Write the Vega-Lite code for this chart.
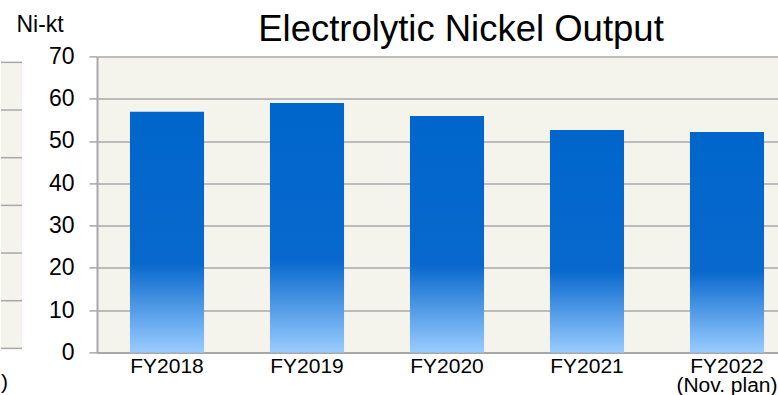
{
  "$schema": "https://vega.github.io/schema/vega-lite/v6.json",
  "padding": {"left": 0, "top": 11.4, "right": 0, "bottom": 0},
  "background": "white",
  "config": {"view": {"stroke": null}, "font": "Liberation Sans"},
  "bounds": "flush",
  "spacing": 75,
  "hconcat": [
    {
      "width": 21,
      "height": 296,
      "layer": [
        {
          "data": {"values": [{"x0": 0, "x1": 1, "y0": 0, "y1": 6}]},
          "mark": {"type": "rect", "color": "#f4f3ec"},
          "encoding": {
            "x": {"field": "x0", "type": "quantitative", "scale": {"domain": [0, 1], "nice": false}, "axis": null},
            "x2": {"field": "x1"},
            "y": {"field": "y0", "type": "quantitative", "scale": {"domain": [-0.084, 6.125], "nice": false, "zero": false}, "axis": null},
            "y2": {"field": "y1"}
          }
        },
        {
          "data": {"values": [{"v": 0}, {"v": 1}, {"v": 2}, {"v": 3}, {"v": 4}, {"v": 5}, {"v": 6}]},
          "mark": {"type": "rule", "color": "#a8a8a8", "strokeWidth": 1.5},
          "encoding": {
            "y": {"field": "v", "type": "quantitative", "scale": {"domain": [-0.084, 6.125], "nice": false, "zero": false}, "axis": null}
          }
        },
        {
          "data": {"values": [{"t": ")", "x": 0, "y": -0.85}]},
          "mark": {"type": "text", "align": "left", "baseline": "alphabetic", "fontSize": 21, "color": "black"},
          "encoding": {
            "text": {"field": "t"},
            "x": {"field": "x", "type": "quantitative", "scale": {"domain": [0, 1], "nice": false}, "axis": null},
            "y": {"field": "y", "type": "quantitative", "scale": {"domain": [-0.084, 6.125], "nice": false, "zero": false}, "axis": null}
          }
        }
      ]
    },
    {
      "width": 700,
      "height": 296,
      "view": {"fill": "#f4f3ec", "stroke": null},
      "title": {
        "text": "Electrolytic Nickel Output",
        "fontSize": 36.5,
        "fontWeight": "normal",
        "font": "Liberation Sans",
        "color": "black",
        "anchor": "middle",
        "frame": "group",
        "baseline": "alphabetic",
        "offset": 0,
        "dx": 14,
        "dy": 64
      },
      "data": {
        "values": [
          {"year": "FY2018", "output": 56.9},
          {"year": "FY2019", "output": 59.0},
          {"year": "FY2020", "output": 55.9},
          {"year": "FY2021", "output": 52.6},
          {"year": "FY2022", "output": 52.1}
        ]
      },
      "mark": {
        "type": "bar",
        "color": {
          "gradient": "linear",
          "x1": 0, "y1": 0, "x2": 0, "y2": 1,
          "stops": [
            {"offset": 0, "color": "#0066cc"},
            {"offset": 0.63, "color": "#0868cd"},
            {"offset": 1, "color": "#99ccff"}
          ]
        }
      },
      "encoding": {
        "x": {
          "field": "year",
          "type": "nominal",
          "sort": null,
          "scale": {"paddingInner": 0.471, "paddingOuter": 0.2355},
          "axis": {
            "title": null,
            "labelAngle": 0,
            "labelFontSize": 21,
            "labelColor": "black",
            "ticks": false,
            "domainColor": "#a8a8a8",
            "domainWidth": 2,
            "labelPadding": 3,
            "labelLineHeight": 19,
            "labelOverlap": false,
            "labelBaseline": "top",
            "labelExpr": "datum.value == 'FY2022' ? ['FY2022', '(Nov. plan)'] : datum.value"
          }
        },
        "y": {
          "field": "output",
          "type": "quantitative",
          "scale": {"domain": [0, 70], "nice": false},
          "axis": {
            "values": [0, 10, 20, 30, 40, 50, 60, 70],
            "title": "Ni-kt",
            "titleAngle": 0,
            "titleX": -81,
            "titleY": -25,
            "titleAlign": "left",
            "titleBaseline": "alphabetic",
            "titleFontSize": 23,
            "titleFontWeight": "normal",
            "titleColor": "black",
            "labelFontSize": 23,
            "labelColor": "black",
            "labelPadding": 15,
            "tickSize": 8,
            "tickColor": "#a8a8a8",
            "tickWidth": 1.5,
            "domainColor": "#a8a8a8",
            "domainWidth": 2,
            "gridColor": "#a8a8a8",
            "gridWidth": 1.5
          }
        }
      }
    }
  ]
}
